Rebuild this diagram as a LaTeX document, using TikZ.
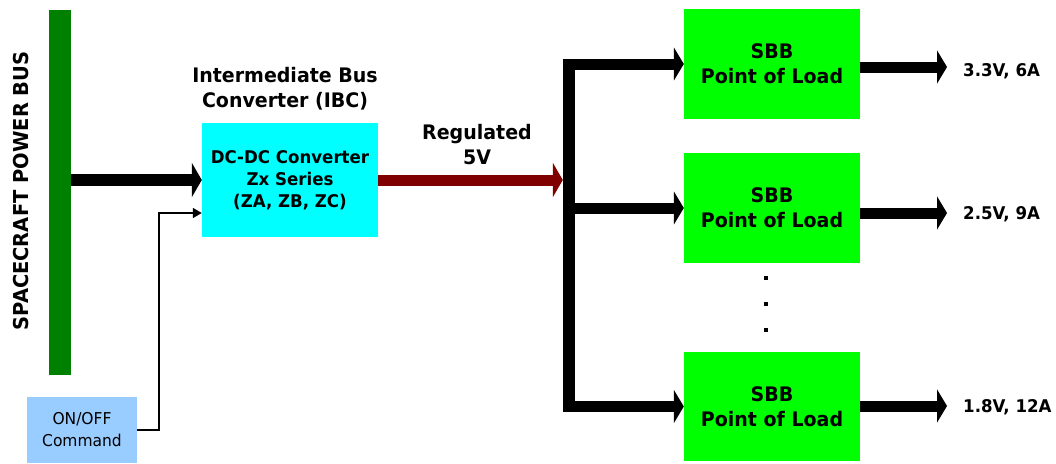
\documentclass[tikz,border=0pt]{standalone}
\usepackage{fontspec}
\setmainfont[FakeStretch=0.95]{DejaVu Sans}
\usetikzlibrary{arrows.meta}
\definecolor{busgreen}{RGB}{0,128,0}
\definecolor{ibccyan}{RGB}{0,255,255}
\definecolor{cmdblue}{RGB}{153,204,255}
\definecolor{polgreen}{RGB}{0,255,0}
\definecolor{regred}{RGB}{128,0,0}
\tikzset{
  blk/.style={inner sep=0pt, align=center, font=\bfseries\fontsize{17.5}{22}\selectfont},
  polbox/.style={blk, fill=polgreen, minimum width=176pt, font=\bfseries\fontsize{20}{25}\selectfont},
  lbl/.style={inner sep=0pt, align=center, font=\bfseries\fontsize{20}{25}\selectfont},
  outlbl/.style={inner sep=0pt, anchor=west, font=\bfseries\fontsize{17.5}{22}\selectfont},
  fatarrow/.style={line width=12pt, -{Triangle[length=10pt,width=34pt]}},
  outarrow/.style={line width=11pt, -{Triangle[length=10pt,width=33pt]}},
  thinarrow/.style={line width=1.5pt, -{Triangle[length=9pt,width=10pt]}},
  dotmark/.style={fill=black, inner sep=0pt, minimum size=3.5pt},
}
\begin{document}
\begin{tikzpicture}[x=1pt,y=-1pt]
\useasboundingbox (0,0) rectangle (1056,463);
% spacecraft bus
\node[fill=busgreen, minimum width=22pt, minimum height=365pt, inner sep=0pt] (bar) at (60,192.5) {};
\node[lbl, rotate=90, font=\bfseries\fontsize{20.5}{25}\selectfont] (barlbl) at (21,191) {SPACECRAFT POWER BUS};
% IBC
\node[blk, fill=ibccyan, minimum width=176pt, minimum height=114pt] (ibc) at (290,180) {DC-DC Converter\\Zx Series\\(ZA, ZB, ZC)};
\node[lbl] (ibclbl) at (285,89) {Intermediate Bus\\Converter (IBC)};
% on/off
\node[fill=cmdblue, minimum width=110pt, minimum height=66pt, inner sep=0pt, align=center, font=\fontsize{16.3}{22}\selectfont] (onoff) at (82,430) {ON/OFF\\Command};
\coordinate (bend) at (159,213);
% bus
\node[fill=black, minimum width=12pt, minimum height=353pt, inner sep=0pt] (bus) at (569,235.5) {};
\node[lbl] (reglbl) at (477,145) {Regulated\\5V};
% POL boxes
\node[polbox, minimum height=110pt] (pol1) at (772,64) {SBB\\Point of Load};
\node[polbox, minimum height=110pt] (pol2) at (772,208) {SBB\\Point of Load};
\node[polbox, minimum height=109pt] (pol3) at (772,406.5) {SBB\\Point of Load};
\node[dotmark] (d1) at (766,278) {};
\node[dotmark] (d2) at (766,304) {};
\node[dotmark] (d3) at (766,330) {};
% outputs
\coordinate (o1) at (947,67);
\coordinate (o2) at (947,213);
\coordinate (o3) at (947,406);
\node[outlbl] (l1) at (963,71) {3.3V, 6A};
\node[outlbl] (l2) at (963,214) {2.5V, 9A};
\node[outlbl] (l3) at (963,407) {1.8V, 12A};
% connectors
\draw[fatarrow] (bar.east |- ibc.west) -- (ibc.west);
\draw[thinarrow] (onoff.east) -| (bend) -- (ibc.west |- bend);
\draw[fatarrow, regred, line width=11pt] (ibc.east) -- (bus.west |- ibc.east);
\draw[outarrow] (bus.east |- pol1.west) -- (pol1.west);
\draw[outarrow] (bus.east |- pol2.west) -- (pol2.west);
\draw[outarrow] (bus.east |- pol3.west) -- (pol3.west);
\draw[outarrow] (pol1.east |- o1) -- (o1);
\draw[outarrow] (pol2.east |- o2) -- (o2);
\draw[outarrow] (pol3.east |- o3) -- (o3);
\end{tikzpicture}
\end{document}
